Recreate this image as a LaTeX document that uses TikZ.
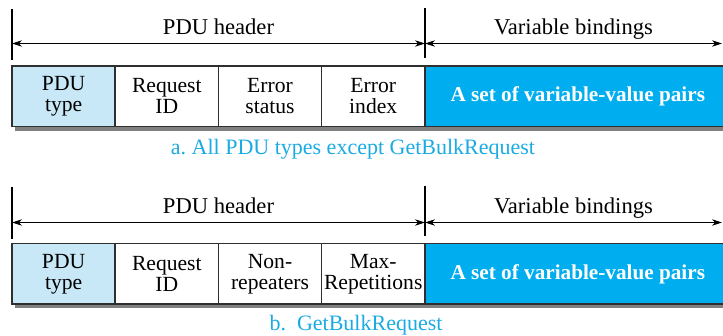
\documentclass[tikz,border=0pt]{standalone}
\usepackage{fontspec}
\setmainfont{Liberation Serif}
\newfontfamily\timesface{Liberation Serif}
\usetikzlibrary{positioning,arrows.meta}
\definecolor{typeFill}{HTML}{C8E8F7}
\definecolor{bindFill}{HTML}{00AEEF}
\definecolor{cellBorder}{HTML}{2F2F2F}
\definecolor{shadowGray}{HTML}{808080}
\definecolor{captionText}{HTML}{1AABE3}

\begin{document}
\begin{tikzpicture}[
    x=0.5pt, y=-0.5pt,
    field/.style={
        rectangle, draw=cellBorder, fill=white,
        minimum width=51.6pt, minimum height=30.4pt,
        inner sep=0pt, outer sep=0pt,
        align=center, line width=0.75pt,
        font=\timesface\fontsize{10.8}{10.5}\selectfont
    },
    bind/.style={
        field, fill=bindFill, minimum width=153pt,
        text=white, font=\timesface\fontsize{10.6}{12}\selectfont\bfseries
    },
    span/.style={{Stealth[length=5pt,width=3.2pt]}-{Stealth[length=5pt,width=3.2pt]}, line width=0.5pt},
    spanlabel/.style={midway, anchor=base, yshift=4.25pt, font=\timesface\fontsize{11.3}{13}\selectfont},
    tick/.style={line width=0.6pt},
    shade/.style={fill=shadowGray, draw=none},
    caption/.style={font=\timesface\fontsize{11}{13}\selectfont, text=captionText, anchor=base}
]
  \clip (0,0) rectangle (723,336);

  % a. All PDU types except GetBulkRequest
  \draw[tick] (12,9) -- (12,60);
  \draw[tick] (425,8) -- (425,58);
  \coordinate (leftA) at (12,43.5);
  \coordinate (midA) at (425,43.5);
  \coordinate (rightA) at (722,43.5);
  \draw[span] (leftA) -- (midA) node[spanlabel] {PDU header};
  \draw[span] (midA) -- (rightA) node[spanlabel] {Variable bindings};

  \fill[shade] (15,70) rectangle (740,131);
  \node[field, fill=typeFill] (typeA) at (63.6,96.3) {PDU\\type};
  \node[field, right=0pt of typeA] (reqA) {Request\\ID};
  \node[field, right=0pt of reqA] (statA) {Error\\status};
  \node[field, right=0pt of statA] (idxA) {Error\\index};
  \node[bind, right=0pt of idxA] (pairsA) {A set of variable-value pairs};

  \node[caption] (capA) at (353,155) {a.\ All PDU types except GetBulkRequest};

  % b. GetBulkRequest
  \draw[tick] (12,187) -- (12,239);
  \draw[tick] (425,186) -- (425,236);
  \coordinate (leftB) at (12,222.5);
  \coordinate (midB) at (425,222.5);
  \coordinate (rightB) at (722,222.5);
  \draw[span] (leftB) -- (midB) node[spanlabel] {PDU header};
  \draw[span] (midB) -- (rightB) node[spanlabel] {Variable bindings};

  \fill[shade] (15,247.5) rectangle (740,308.5);
  \node[field, fill=typeFill] (typeB) at (63.6,273.8) {PDU\\type};
  \node[field, right=0pt of typeB] (reqB) {Request\\ID};
  \node[field, right=0pt of reqB] (nonB) {Non-\\repeaters};
  \node[field, right=0pt of nonB] (maxB) {Max-\\Repetitions};
  \node[bind, right=0pt of maxB] (pairsB) {A set of variable-value pairs};

  \node[caption] (capB) at (356,330.7) {b.\ \ GetBulkRequest};

\end{tikzpicture}
\end{document}
